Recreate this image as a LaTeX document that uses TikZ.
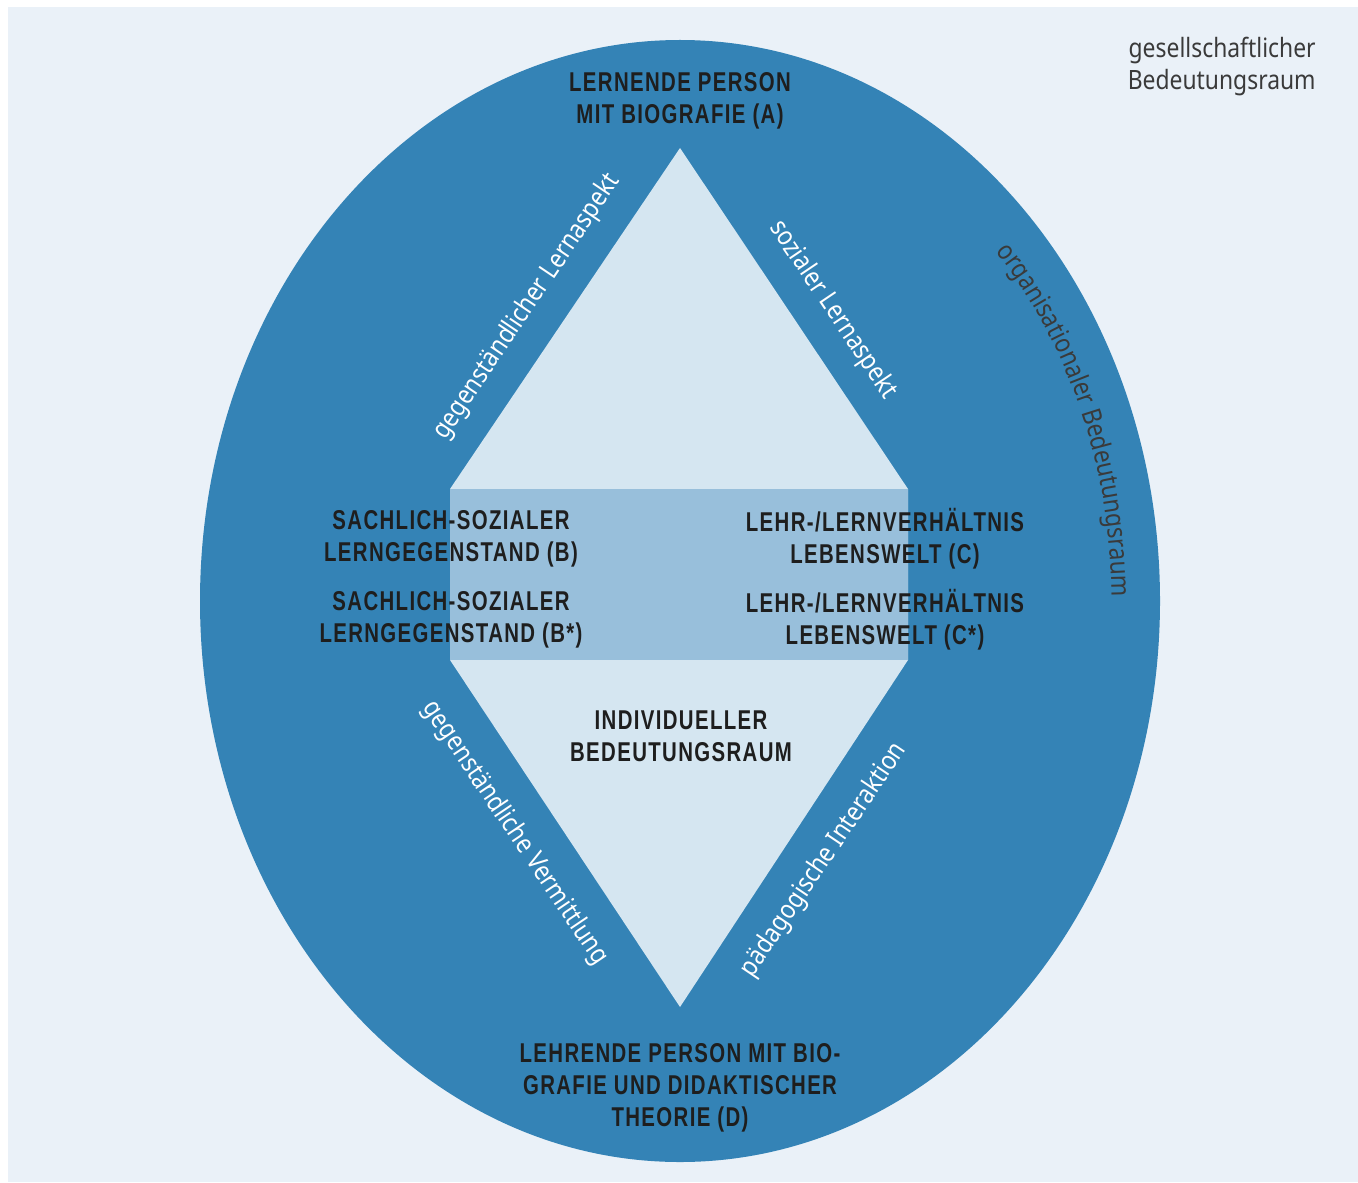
\documentclass[tikz,border=0pt]{standalone}
\usepackage{fontspec}
\setmainfont{Noto Sans}[FakeStretch=0.86]
\newfontfamily\headfont{Liberation Sans}[FakeStretch=0.75,LetterSpace=5]
\usetikzlibrary{positioning,decorations.text}

\definecolor{bgblue}{HTML}{EAF1F8}
\definecolor{ovalblue}{HTML}{3483B6}
\definecolor{paleblue}{HTML}{D5E6F1}
\definecolor{midblue}{HTML}{98BFDB}
\definecolor{darktext}{HTML}{1E1E1E}
\definecolor{graytext}{HTML}{3A3A3A}

\begin{document}
\begin{tikzpicture}
	[
		x=0.5pt, y=0.5pt,
		headlabel/.style={align=center, inner sep=0pt, text=darktext, font=\headfont\bfseries\fontsize{13.6}{16}\selectfont},
		sidelabel/.style={inner sep=0pt, text=white, font=\fontsize{13.3}{16}\selectfont},
		spacelabel/.style={align=right, inner sep=0pt, text=graytext, font=\fontsize{13.3}{16}\selectfont},
	]

	\useasboundingbox (0,0) rectangle (1358,-1182);
	\fill[bgblue] (8,-7) rectangle (1358,-1182);
	\fill[ovalblue] (680,-601) ellipse [x radius=240pt, y radius=280.5pt];

	% diamond with the middle band
	\fill[paleblue] (680,-148) -- (908,-489) -- (908,-660) -- (680,-1007) -- (450,-660) -- (450,-489) -- cycle;
	\fill[midblue] (450,-489) rectangle (908,-660);

	\node[headlabel] (lernend) at (680,-101) {LERNENDE PERSON\\MIT BIOGRAFIE (A)};
	\node[headlabel] (sachB) at (451,-539) {SACHLICH-SOZIALER\\LERNGEGENSTAND (B)};
	\node[headlabel] (sachBstar) at (451,-620) {SACHLICH-SOZIALER\\LERNGEGENSTAND (B*)};
	\node[headlabel] (lehrC) at (885,-539) {LEHR-/LERNVERHÄLTNIS\\LEBENSWELT (C)};
	\node[headlabel] (lehrCstar) at (885,-620) {LEHR-/LERNVERHÄLTNIS\\LEBENSWELT (C*)};
	\node[headlabel] (indiv) at (681,-736) {INDIVIDUELLER\\BEDEUTUNGSRAUM};
	\node[headlabel] (lehrend) at (680,-1088) {LEHRENDE PERSON MIT BIO-\\GRAFIE UND DIDAKTISCHER\\THEORIE (D)};

	\node[sidelabel, rotate=56] (gegenstand) at (527,-307) {gegenständlicher Lernaspekt};
	\node[sidelabel, rotate=-56] (sozial) at (833,-310) {sozialer Lernaspekt};
	\node[sidelabel, rotate=-56] (vermittlung) at (515,-833) {gegenständliche Vermittlung};
	\node[sidelabel, rotate=56] (interaktion) at (824,-860) {pädagogische Interaktion};

	\node[spacelabel, anchor=east] (gesell) at (1316,-67) {gesellschaftlicher\\Bedeutungsraum};

	\path[decorate, decoration={text along path, text align=left,
		text={|\fontsize{13.3}{16}\selectfont\color{graytext}|organisationaler Bedeutungsraum}}]
		(995.9,-251.1) arc[start angle=43, end angle=-12, x radius=216pt, y radius=256.5pt];

\end{tikzpicture}
\end{document}
